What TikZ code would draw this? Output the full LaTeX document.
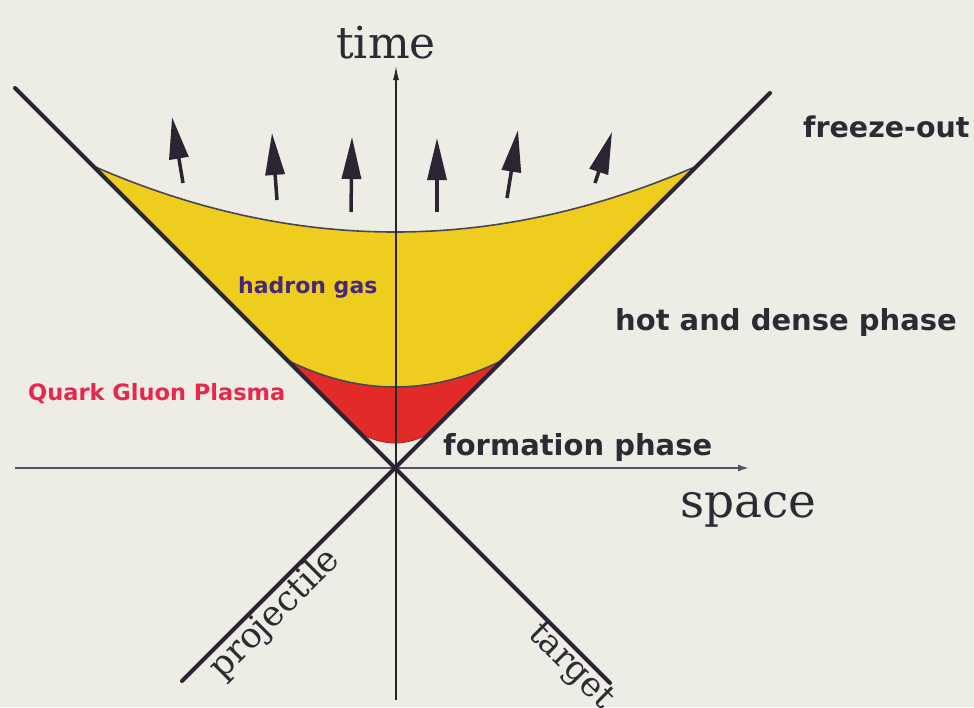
\documentclass[tikz,border=0pt]{standalone}
\usepackage{fontspec}
\setmainfont{DejaVu Serif}
\newfontfamily\dvs{DejaVu Sans}
\usetikzlibrary{arrows.meta}
\definecolor{bg}{HTML}{EDEDE5}
\definecolor{hadronc}{HTML}{EFCD1F}
\definecolor{qgpc}{HTML}{E22B28}
\definecolor{linec}{HTML}{2A2433}
\definecolor{axisc}{HTML}{555068}
\definecolor{purplec}{HTML}{46287A}
\definecolor{pinkc}{HTML}{E6284E}
\definecolor{textc}{HTML}{2E2A33}
\begin{document}
\begin{tikzpicture}[x=1pt,y=-1pt,
  cone/.style={line width=4pt,draw=linec,line cap=round},
  haxis/.style={line width=2.6pt,draw=axisc,-{Latex[length=12pt,width=7pt]}},
  vaxis/.style={line width=1.3pt,draw=black!85,-{Latex[length=14pt,width=6pt]}},
  flow/.style={line width=3.5pt,draw=linec,-{Triangle[length=42pt,width=19pt]}},
  edge/.style={line width=1.6pt,draw=linec!85},
  serif/.style={inner sep=0pt,text=textc},
  sanslab/.style={inner sep=0pt,text=textc,font=\dvs\bfseries\fontsize{29}{32}\selectfont}
]
\fill[bg] (0,0) rectangle (974,707);
\useasboundingbox (0,0) rectangle (974,707);

\coordinate (O) at (395,468);
\coordinate (A1) at (15,88);
\coordinate (A2) at (610,683);
\coordinate (B1) at (770,93);
\coordinate (B2) at (182,681);

% regions inside the forward light cone
\begin{scope}
  \clip (A1) -- (O) -- (B1) -- cycle;
  \fill[hadronc] plot[domain=60:730,samples=120] (\x,{232-7.24*((\x-395)/100)^2}) -- (730,470) -- (60,470) -- cycle;
  \fill[qgpc] plot[domain=250:540,samples=80] (\x,{387-23.15*((\x-395)/100)^2}) -- (540,470) -- (250,470) -- cycle;
  \fill[bg] plot[domain=340:450,samples=60] (\x,{443-81.6*((\x-395)/100)^2}) -- (450,470) -- (340,470) -- cycle;
  \draw[edge] plot[domain=60:730,samples=120] (\x,{232-7.24*((\x-395)/100)^2});
  \draw[edge] plot[domain=250:540,samples=80] (\x,{387-23.15*((\x-395)/100)^2});
  \draw[line width=0.8pt,draw=qgpc!70!black] plot[domain=340:450,samples=60] (\x,{443-81.6*((\x-395)/100)^2});
\end{scope}

% axes
\coordinate (H1) at (15,468);
\coordinate (H2) at (750,468);
\coordinate (V1) at (396,700);
\coordinate (V2) at (396,66);
\draw[haxis] (H1) -- (H2);
\draw[vaxis] (V1) -- (V2);

% light cone
\draw[cone] (A1) -- (A2);
\draw[cone] (B1) -- (B2);

% flow arrows
\coordinate (t1) at (183,183); \coordinate (h1) at (172,117);
\coordinate (t2) at (277,200); \coordinate (h2) at (272,133);
\coordinate (t3) at (351,212); \coordinate (h3) at (352,137);
\coordinate (t4) at (437,212); \coordinate (h4) at (437,138);
\coordinate (t5) at (507,198); \coordinate (h5) at (518,130);
\coordinate (t6) at (595,183); \coordinate (h6) at (612,132);
\foreach \i in {1,...,6} {\draw[flow] (t\i) -- (h\i);}

% labels
\node[serif,anchor=base,font=\fontsize{44}{50}\selectfont] (time) at (386,58) {time};
\node[serif,anchor=base west,font=\fontsize{47}{54}\selectfont] (space) at (680,517) {space};
\node[sanslab,anchor=base west,font=\dvs\bfseries\fontsize{28.5}{32}\selectfont] (fo) at (803,137) {freeze-out};
\node[sanslab,anchor=base west] (hd) at (615,330) {hot and dense phase};
\node[sanslab,anchor=base west] (fp) at (443,455) {formation phase};
\node[sanslab,anchor=base west,text=purplec,font=\dvs\bfseries\fontsize{22}{26}\selectfont] (hg) at (238,293) {hadron gas};
\node[sanslab,anchor=base west,text=pinkc,font=\dvs\bfseries\fontsize{22.5}{26}\selectfont] (qgp) at (28,400) {Quark Gluon Plasma};
\node[serif,anchor=north,rotate=45,inner sep=1.5pt,font=\fontsize{35}{40}\selectfont] (proj) at (262,601) {projectile};
\node[serif,anchor=north,rotate=-45,inner sep=1.5pt,font=\fontsize{34}{40}\selectfont] (targ) at (582,655) {target};
\end{tikzpicture}
\end{document}
